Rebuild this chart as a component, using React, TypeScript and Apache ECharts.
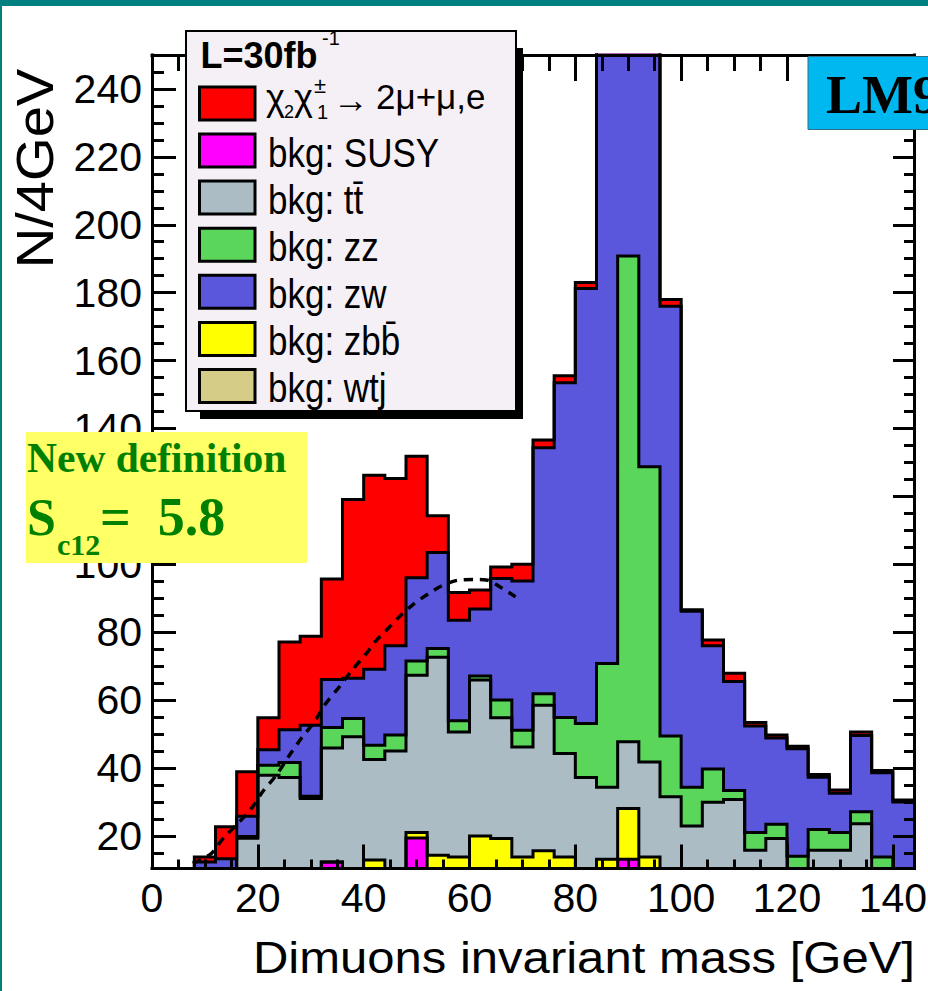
import React, { useEffect, useRef } from "react";
import * as echarts from "echarts";

// ---- data -------------------------------------------------------------
// lower edges of the 4 GeV bins
const binLow = [0, 4, 8, 12, 16, 20, 24, 28, 32, 36, 40, 44, 48, 52, 56, 60, 64, 68, 72, 76, 80, 84, 88, 92, 96, 100, 104, 108, 112, 116, 120, 124, 128, 132, 136, 140];
const xMax = 144;

// per-process contents per bin (events / 4 GeV)
const signal = [0, 0, 1.5, 9.4, 13.1, 9.4, 25.8, 26.2, 29.6, 52.7, 57.1, 49.3, 35.8, 10.8, 8.2, 5.6, 3.4, 4.9, 2.3, 2.0, 1.8, 1.0, 2.0, 2.0, 2.0, 0.4, 1.7, 2.4, 1.0, 0.9, 0.7, 0.8, 0.9, 1.0, 0.7, 0.6];
const zw = [0, 0, 12.3, 13.3, 6.0, 4.6, 9.7, 20.9, 14.2, 11.8, 22.4, 26.3, 24.5, 28.3, 29.6, 19.7, 35.8, 44.0, 72.4, 98.6, 128.1, 219.2, 209.2, 141.3, 126.6, 51.9, 36.3, 32.1, 31.4, 25.4, 31.7, 15.4, 11.6, 22.5, 24.8, 30.0];
const zz = [0, 0, 0, 0, 0.5, 2.9, 4.4, 0.7, 6.0, 5.4, 4.2, 4.7, 4.2, 2.6, 3.3, 1.2, 5.2, 4.9, 3.4, 10.6, 15.9, 36.5, 143.1, 86.9, 17.9, 11.4, 9.8, 2.7, 5.2, 4.2, 14.0, 6.1, 5.2, 3.5, 13.8, 0];
const ttbar = [0, 0, 0, 0, 19.3, 37.9, 37.2, 31.0, 33.6, 49.2, 29.6, 45.0, 46.3, 58.3, 36.8, 45.9, 35.6, 32.4, 42.9, 30.5, 37.2, 21.2, 19.6, 28.0, 31.5, 22.9, 29.9, 30.7, 15.8, 19.2, 0, 15.8, 15.8, 23.6, 0, 0];
const zbb = [0, 0, 0, 0, 0, 0, 0, 0, 0, 0, 12.9, 0, 1.6, 14.3, 13.8, 20.0, 19.2, 13.8, 15.6, 13.8, 0, 13.1, 15.0, 13.8, 0, 0, 0, 0, 0, 0, 0, 0, 0, 0, 0, 0];
const susy = [0, 0, 0, 0, 0, 0, 0, 0, 12.3, 0, 0, 0, 19.4, 0, 0, 0, 0, 0, 0, 0, 0, 0, 13.1, 0, 0, 0, 0, 0, 0, 0, 0, 0, 0, 0, 0, 0];
const wtj = [0, 0, 0, 0, 0, 0, 0, 0, 0, 0, 0, 0, 0, 0, 0, 0, 0, 0, 0, 0, 0, 0, 0, 0, 0, 0, 0, 0, 0, 0, 0, 0, 0, 0, 0, 0];

// dashed curve
const dashX = [7.7, 11.2, 13.4, 16.5, 18.8, 20.9, 23.5, 26.0, 28.2, 30.7, 32.6, 35.4, 37.8, 40.5, 42.1, 44.3, 46.7, 49.2, 52.1, 54.7, 57.8, 61.3, 63.2, 65.7, 68.7];
const dashY = [11.9, 14.8, 19.2, 24.1, 28.1, 33.0, 37.9, 43.8, 48.7, 53.6, 58.5, 63.9, 68.8, 73.7, 77.1, 80.6, 84.5, 88.0, 91.2, 93.6, 95.3, 95.5, 95.4, 93.4, 90.4];

// axis ticks and labels (120 is hidden behind the yellow box in the original)
const xMajor = [0, 20, 40, 60, 80, 100, 120, 140];
const xMinor = [5, 10, 15, 25, 30, 35, 45, 50, 55, 65, 70, 75, 85, 90, 95, 105, 110, 115, 125, 130, 135];
const yMajor = [20, 40, 60, 80, 100, 120, 140, 160, 180, 200, 220, 240];
const yLabels = [20, 40, 60, 80, 100, 140, 160, 180, 200, 220, 240];
const yMinor = [15, 25, 30, 35, 45, 50, 55, 65, 70, 75, 85, 90, 95, 105, 110, 115, 125, 130, 135, 145, 150, 155, 165, 170, 175, 185, 190, 195, 205, 210, 215, 225, 230, 235, 245];
const yMin = 10.4;
const yMax = 250;

// legend labels (top to bottom)
const legendKeys = ["signal", "susy", "ttbar", "zz", "zw", "zbb", "wtj"];
const legendLabels = ["χ2χ1± → 2μ+μ,e", "bkg: SUSY", "bkg: tt̄", "bkg: zz", "bkg: zw", "bkg: zbb̄", "bkg: wtj"];

// ---- styles -----------------------------------------------------------
const COLORS: Record<string, string> = {
  signal: "#ff0000",
  susy: "#ff00ff",
  ttbar: "#abbcc4",
  zz: "#5ad65a",
  zw: "#5a57dc",
  zbb: "#ffff00",
  wtj: "#d5cc88",
};
const SANS = "Liberation Sans";
const SERIF = "Liberation Serif";

function txt(x: number, y: number, text: string, size: number, o: any = {}) {
  const align = o.align ?? "left";
  return {
    type: "text",
    x,
    y,
    z: o.z ?? 30,
    silent: true,
    scaleX: o.sx ?? 1,
    scaleY: o.sy ?? 1,
    rotation: o.rot ?? 0,
    style: {
      text,
      fontSize: size,
      fontFamily: o.family ?? SANS,
      fontWeight: o.weight ?? "normal",
      fill: o.color ?? "#000",
      align,
      textAlign: align,
      verticalAlign: "middle",
      textVerticalAlign: "middle",
    },
  };
}

export default function App() {
  const ref = useRef<HTMLDivElement>(null);

  useEffect(() => {
    const chart = echarts.init(ref.current!, null, { renderer: "svg" });

    const layers: { key: string; name: string; values: number[] }[] = [
      { key: "wtj", name: "bkg: wtj", values: wtj },
      { key: "susy", name: "bkg: SUSY", values: susy },
      { key: "zbb", name: "bkg: zbb̄", values: zbb },
      { key: "ttbar", name: "bkg: tt̄", values: ttbar },
      { key: "zz", name: "bkg: zz", values: zz },
      { key: "zw", name: "bkg: zw", values: zw },
      { key: "signal", name: "χ2χ1± → 2μ+μ,e", values: signal },
    ];
    let running = binLow.map(() => 0);
    const cum = layers.map((l) => {
      running = running.map((r, i) => Math.round((r + l.values[i]) * 10) / 10);
      return { ...l, cum: running.slice() };
    });

    const histSeries = cum
      .slice()
      .reverse()
      .map((l) => ({
        type: "line",
        name: l.name,
        step: "end",
        symbol: "none",
        showSymbol: false,
        clip: true,
        z: 2,
        data: [...binLow.map((x, i) => [x, l.cum[i]]), [xMax, l.cum[l.cum.length - 1]]],
        lineStyle: { color: "#000", width: 3, join: "miter", cap: "butt" },
        itemStyle: { color: COLORS[l.key] },
        areaStyle: { color: COLORS[l.key], opacity: 1, origin: "start" },
      }));

    const dashSeries = {
      type: "line",
      name: "dashed",
      smooth: 0.3,
      symbol: "none",
      showSymbol: false,
      clip: true,
      z: 3,
      data: dashX.map((x, i) => [x, dashY[i]]),
      lineStyle: { color: "#000", width: 3.5, type: [9, 7] },
    };

    const black = { color: "#000", width: 3 };
    const xBase = { type: "value", min: 0, max: xMax, splitLine: { show: false }, z: 5 };
    const yBase = { type: "value", min: yMin, max: yMax, splitLine: { show: false }, z: 5 };
    const noLabel = { show: false };

    const xAxis = [
      {
        ...xBase,
        position: "bottom",
        axisLine: { show: true, onZero: false, lineStyle: { ...black, cap: "square" } },
        axisTick: { show: true, inside: true, length: 24, customValues: xMajor, lineStyle: black },
        axisLabel: { show: true, customValues: xMajor, margin: 9, fontSize: 41, fontFamily: SANS, color: "#000" },
      },
      {
        ...xBase,
        position: "bottom",
        axisLine: { show: false, onZero: false },
        axisTick: { show: true, inside: true, length: 9, customValues: xMinor, lineStyle: black },
        axisLabel: noLabel,
      },
      {
        ...xBase,
        position: "top",
        axisLine: { show: true, onZero: false, lineStyle: { ...black, cap: "square" } },
        axisTick: { show: true, inside: true, length: 26, customValues: xMajor, lineStyle: black },
        axisLabel: noLabel,
      },
      {
        ...xBase,
        position: "top",
        axisLine: { show: false, onZero: false },
        axisTick: { show: true, inside: true, length: 16, customValues: xMinor, lineStyle: black },
        axisLabel: noLabel,
      },
    ];
    const yAxis = [
      {
        ...yBase,
        position: "left",
        axisLine: { show: true, onZero: false, lineStyle: { ...black, cap: "square" } },
        axisTick: { show: true, inside: true, length: 24, customValues: yMajor, lineStyle: black },
        axisLabel: { show: true, customValues: yLabels, margin: 10, fontSize: 41, fontFamily: SANS, color: "#000" },
      },
      {
        ...yBase,
        position: "left",
        axisLine: { show: false, onZero: false },
        axisTick: { show: true, inside: true, length: 12, customValues: yMinor, lineStyle: black },
        axisLabel: noLabel,
      },
      {
        ...yBase,
        position: "right",
        axisLine: { show: true, onZero: false, lineStyle: { ...black, cap: "square" } },
        axisTick: { show: true, inside: true, length: 21, customValues: yMajor, lineStyle: black },
        axisLabel: noLabel,
      },
      {
        ...yBase,
        position: "right",
        axisLine: { show: false, onZero: false },
        axisTick: { show: true, inside: true, length: 10, customValues: yMinor, lineStyle: black },
        axisLabel: noLabel,
      },
    ];

    // ---- annotations / legend ----
    const g: any[] = [];
    // page border
    g.push({ type: "rect", silent: true, z: 40, shape: { x: 0, y: 0, width: 928, height: 6 }, style: { fill: "#008080" } });
    g.push({ type: "rect", silent: true, z: 40, shape: { x: 0, y: 0, width: 2, height: 991 }, style: { fill: "#008080" } });

    // axis titles
    g.push(txt(915, 957.4, "Dimuons invariant mass [GeV]", 45, { align: "right", sx: 1.09 }));
    g.push(txt(35, 168.5, "N/4GeV", 51, { align: "center", rot: Math.PI / 2, sx: 1.1 }));

    // legend
    g.push({ type: "rect", silent: true, z: 20, shape: { x: 200, y: 48, width: 323, height: 371 }, style: { fill: "#000" } });
    g.push({ type: "rect", silent: true, z: 21, shape: { x: 186, y: 31, width: 330, height: 380 }, style: { fill: "#f5f0f5", stroke: "#000", lineWidth: 2 } });
    g.push(txt(200.5, 55.8, "L=30fb", 36, { weight: "bold" }));
    g.push(txt(322, 38, "-1", 20));
    legendKeys.forEach((key, i) => {
      const top = 85.4 + 47.1 * i;
      g.push({
        type: "rect",
        silent: true,
        z: 25,
        shape: { x: 199.5, y: top + 1.5, width: 55.5, height: 33 },
        style: { fill: COLORS[key], stroke: "#000", lineWidth: 3 },
      });
      if (i > 0) g.push(txt(268, top + 19.9, legendLabels[i], 35, { sy: 1.18 }));
    });
    // signal label pieces
    g.push(txt(266, 97, "χ", 36));
    g.push(txt(284, 112, "2", 18));
    g.push(txt(294, 97, "χ", 36));
    g.push(txt(314, 85, "±", 22));
    g.push(txt(317, 112, "1", 20));
    g.push(txt(333, 99.5, "→", 36));
    g.push(txt(376, 96.2, "2μ+μ,e", 35));

    // LM9 box
    g.push({ type: "rect", silent: true, z: 20, shape: { x: 808, y: 56.5, width: 130, height: 73 }, style: { fill: "#00b8f0", stroke: "#2f6f8c", lineWidth: 1 } });
    g.push(txt(826, 94.8, "LM9", 54, { family: SERIF, weight: "bold" }));

    // significance box
    const green = "#008000";
    g.push({ type: "rect", silent: true, z: 20, shape: { x: 26, y: 432, width: 281, height: 131 }, style: { fill: "#ffff66" } });
    g.push(txt(27, 458.2, "New definition", 41.5, { family: SERIF, weight: "bold", color: green }));
    g.push(txt(27, 517.5, "S", 52, { family: SERIF, weight: "bold", color: green }));
    g.push(txt(57, 544.9, "c12", 30, { family: SERIF, weight: "bold", color: green }));
    g.push(txt(100, 517.1, "=  5.8", 54, { family: SERIF, weight: "bold", color: green }));

    const option: any = {
      animation: false,
      backgroundColor: "#fff",
      textStyle: { fontFamily: SANS },
      grid: { left: 152, top: 55, width: 762, height: 813.5, containLabel: false, outerBoundsMode: "none" },
      xAxis,
      yAxis,
      series: [...histSeries, dashSeries],
      graphic: { elements: g },
    };
    chart.setOption(option);
    return () => chart.dispose();
  }, []);

  return (
    <div
      ref={ref}
      style={{ position: "fixed", left: 0, top: 0, width: 928, height: 991, background: "#fff" }}
    />
  );
}
